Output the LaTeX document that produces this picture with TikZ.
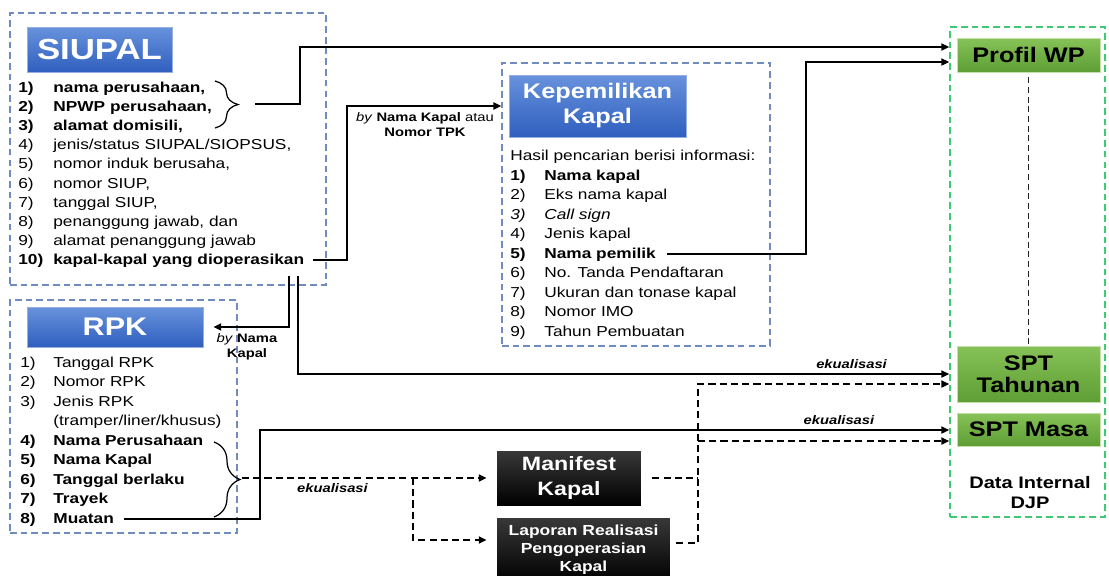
\documentclass[tikz,border=0pt]{standalone}
\usepackage{fontspec}
\setmainfont{Liberation Sans}[FakeStretch=1.2]
\usepackage{tikz}
\usetikzlibrary{arrows.meta, calc, decorations.pathreplacing}
\usepackage{xcolor}

\definecolor{grpBlue}{HTML}{6F8BC0}
\definecolor{hdTop}{HTML}{6892DC}
\definecolor{hdBot}{HTML}{2F5FBF}
\definecolor{djpTop}{HTML}{86C258}
\definecolor{djpBot}{HTML}{5E9E34}
\definecolor{djpLine}{HTML}{3DCB72}

\begin{document}
\begin{tikzpicture}[x=0.02cm, y=-0.02cm,
    grpBox/.style={draw=grpBlue, line width=0.8pt, dash pattern=on 3.8pt off 2.3pt, inner sep=0pt},
    headNode/.style={top color=hdTop, bottom color=hdBot, draw=hdBot!50!white, text=white, align=center, inner sep=0pt},
    djpNode/.style={top color=djpTop, bottom color=djpBot, draw=djpTop!50!white, text=black, font=\fontsize{12}{12.5}\selectfont\bfseries, align=center, minimum width=2.86cm, inner sep=0pt},
    srcNode/.style={top color=black!78, bottom color=black, text=white, align=center, inner sep=0pt},
    itemNode/.style={anchor=base west, inner sep=0pt, text height=7pt, text depth=2pt, font=\fontsize{8.2}{11}\selectfont},
    lbl/.style={font=\fontsize{7}{8.5}\selectfont, align=center, inner sep=0pt},
    eqLbl/.style={font=\fontsize{7}{8.5}\selectfont\bfseries\itshape, inner sep=2.5pt},
    solidRel/.style={line width=1.1pt, -{Triangle[length=4.5pt, width=4pt]}},
    dashRel/.style={line width=1.1pt, dash pattern=on 4pt off 2.4pt, -{Triangle[length=4.5pt, width=4pt]}},
    braceLine/.style={line width=0.7pt, decorate}
]
    \useasboundingbox (0,0) rectangle (1109,575);
    \clip (0,0) rectangle (1109,575);

    % Group boxes
    \node[grpBox, minimum width=6.32cm, minimum height=5.44cm] (siupalbox) at (168,149) {};
    \node[grpBox, minimum width=5.36cm, minimum height=5.66cm] (kepbox) at (636,204.5) {};
    \node[grpBox, minimum width=4.54cm, minimum height=4.66cm] (rpkbox) at (123.5,416.5) {};
    \node[draw=djpLine, line width=0.9pt, dash pattern=on 3.8pt off 2.3pt, minimum width=3.1cm, minimum height=9.8cm] (djp) at (1027.5,272) {};

    % Headers
    \node[headNode, minimum width=2.9cm, minimum height=0.9cm, font=\fontsize{16.5}{18}\selectfont\bfseries] (siupalhead) at (99.5,49.5) {SIUPAL};
    \node[headNode, minimum width=3.54cm, minimum height=1.24cm, font=\fontsize{12}{14.2}\selectfont\bfseries] (kephead) at (597.5,106) {Kepemilikan\\Kapal};
    \node[headNode, minimum width=3.52cm, minimum height=0.8cm, font=\fontsize{14.5}{16}\selectfont\bfseries] (rpkhead) at (115,327) {RPK};

    % SIUPAL items
    \foreach \num/\txt/\fnt [count=\i] in {
        {1)}/{nama perusahaan,}/\bfseries,
        {2)}/{NPWP perusahaan,}/\bfseries,
        {3)}/{alamat domisili,}/\bfseries,
        {4)}/{jenis/status SIUPAL/SIOPSUS,}/\mdseries,
        {5)}/{nomor induk berusaha,}/\mdseries,
        {6)}/{nomor SIUP,}/\mdseries,
        {7)}/{tanggal SIUP,}/\mdseries,
        {8)}/{penanggung jawab, dan}/\mdseries,
        {9)}/{alamat penanggung jawab}/\mdseries,
        {10)}/{kapal-kapal yang dioperasikan}/\bfseries}
    {
        \node[itemNode] (sn\i) at (18, {92+19.2*(\i-1)}) {\fnt\num};
        \node[itemNode] (s\i) at (53, {92+19.2*(\i-1)}) {\fnt\txt};
    }

    % Kepemilikan items
    \node[itemNode] (kptitle) at (510,160) {Hasil pencarian berisi informasi:};
    \foreach \num/\txt/\fnt [count=\i] in {
        {1)}/{Nama kapal}/\bfseries,
        {2)}/{Eks nama kapal}/\mdseries,
        {3)}/{Call sign}/\itshape,
        {4)}/{Jenis kapal}/\mdseries,
        {5)}/{Nama pemilik}/\bfseries,
        {6)}/{No. Tanda Pendaftaran}/\mdseries,
        {7)}/{Ukuran dan tonase kapal}/\mdseries,
        {8)}/{Nomor IMO}/\mdseries,
        {9)}/{Tahun Pembuatan}/\mdseries}
    {
        \node[itemNode] (kpn\i) at (510, {180+19.5*(\i-1)}) {\fnt\num};
        \node[itemNode] (kp\i) at (544, {180+19.5*(\i-1)}) {\fnt\txt};
    }

    % RPK items
    \foreach \num/\txt/\fnt [count=\i] in {
        {1)}/{Tanggal RPK}/\mdseries,
        {2)}/{Nomor RPK}/\mdseries,
        {3)}/{Jenis RPK}/\mdseries,
        {}/{(tramper/liner/khusus)}/\mdseries,
        {4)}/{Nama Perusahaan}/\bfseries,
        {5)}/{Nama Kapal}/\bfseries,
        {6)}/{Tanggal berlaku}/\bfseries,
        {7)}/{Trayek}/\bfseries,
        {8)}/{Muatan}/\bfseries}
    {
        \node[itemNode] (rn\i) at (20, {367+19.5*(\i-1)}) {\fnt\num};
        \node[itemNode] (r\i) at (53, {367+19.5*(\i-1)}) {\fnt\txt};
    }

    % Data internal DJP
    \node[djpNode, minimum height=0.68cm] (profil) at (1028.5,55) {Profil WP};
    \node[djpNode, minimum height=1.12cm] (sptt) at (1028.5,374) {SPT\\Tahunan};
    \node[djpNode, minimum height=0.66cm] (sptm) at (1028.5,429.5) {SPT Masa};
    \node[font=\fontsize{9.5}{11.4}\selectfont\bfseries, align=center] (djplbl) at (1030,493) {Data Internal\\DJP};

    % Manifest and laporan
    \node[srcNode, minimum width=2.88cm, minimum height=1.08cm, font=\fontsize{11}{13.7}\selectfont\bfseries] (manifest) at (569,478) {Manifest\\Kapal};
    \node[srcNode, minimum width=3.46cm, minimum height=1.28cm, font=\fontsize{8.3}{10.3}\selectfont\bfseries] (laporan) at (583.5,550) {Laporan Realisasi\\Pengoperasian\\Kapal};

    % Braces
    \draw[braceLine, decoration={brace, amplitude=0.46cm}] (215,81) -- (215,128);
    \draw[braceLine, decoration={brace, amplitude=0.52cm}] (214,442) -- (214,517);
    \coordinate (b1) at (255,104);
    \coordinate (b2) at (242,478);
    \coordinate (d1) at (289,276);
    \coordinate (d2) at (298,276);
    \coordinate (j2) at (413,478);
    \coordinate (j3) at (698,441);

    % SIUPAL relations
    \draw[solidRel] (b1) -| (300,47) -- (djp.west |- 0,47);
    \draw[solidRel] ($(s10.east)+(9,0)$) -| (347,106) -- (kepbox.west |- 0,106);
    \node[lbl] (bykapal) at (425,124.5) {\textit{by} \textbf{Nama Kapal} atau\\\textbf{Nomor TPK}};
    \draw[solidRel] (d1) |- ($(rpkhead.east)+(10,0)$);
    \node[lbl] (bynama) at (247,347) {\textit{by} \textbf{Nama}\\\textbf{Kapal}};
    \draw[solidRel] (d2) |- (djp.west |- 0,374) node[eqLbl, pos=0.925, above] {ekualisasi};

    % Kepemilikan relation
    \draw[solidRel] ($(kp5.east)+(11,0)$) -| (806,62) -- (djp.west |- 0,62);

    % RPK relations
    \draw[solidRel] ($(r9.east)+(10,0)$) -| (260,430) -- (djp.west |- 0,430) node[eqLbl, pos=0.84, above] {ekualisasi};
    \draw[dashRel] (b2) -- ($(manifest.west)+(-10,0)$) node[eqLbl, pos=0.37, below] {ekualisasi};
    \draw[dashRel] (j2) |- ($(laporan.west |- 0,540)+(-10,0)$);

    % Manifest / laporan -> SPT
    \draw[dashRel, -] ($(manifest.east)+(11,0)$) -- (manifest.east -| 698,0);
    \draw[dashRel] ($(laporan.east |- 0,543)+(6,0)$) -| (698,384) -- (djp.west |- 0,384);
    \draw[dashRel] (j3) -- (djp.west |- j3);

    % Profil WP -- SPT Tahunan
    \draw[gray!25!black, line width=1pt, dash pattern=on 3.5pt off 2pt] ($(profil.south)+(0,5)$) -- (sptt.north);
\end{tikzpicture}
\end{document}
